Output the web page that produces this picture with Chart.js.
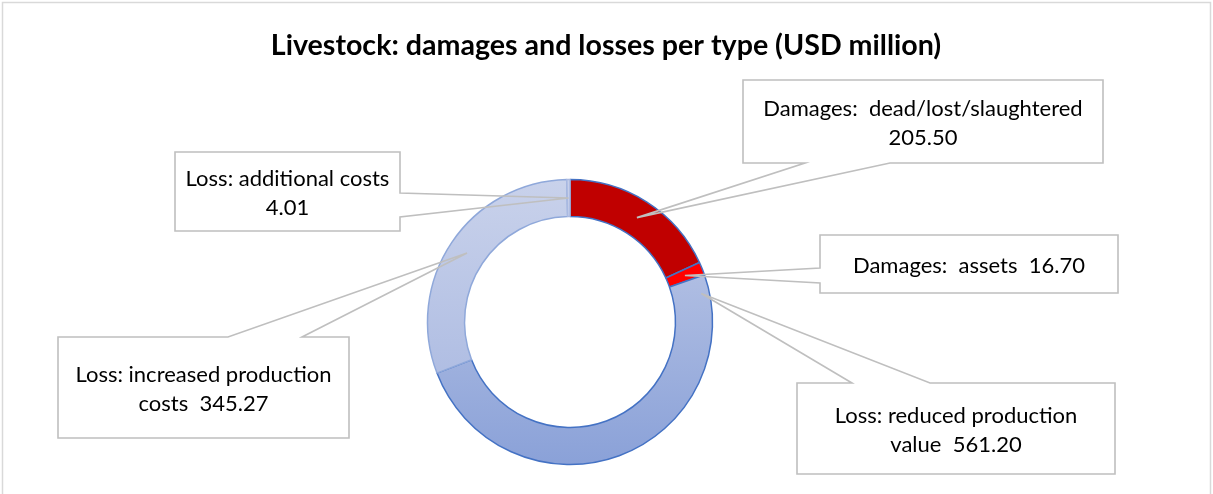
<!DOCTYPE html>
<html>
<head>
<meta charset="utf-8">
<script src="https://cdn.jsdelivr.net/npm/chart.js@4/dist/chart.umd.min.js"></script>
<style>
  body { margin: 0; background: #fff; }
  #wrap { position: relative; width: 1213px; height: 494px; }
</style>
</head>
<body>
<div id="wrap"><canvas id="livestock-chart"></canvas></div>
<script>
const chartTitle = 'Livestock: damages and losses per type (USD million)';
const categories = [
  'Damages:  dead/lost/slaughtered',
  'Damages:  assets',
  'Loss: reduced production value',
  'Loss: increased production costs',
  'Loss: additional costs',
];
const values = [205.5, 16.7, 561.2, 345.27, 4.01];

// slice looks (plain colour or top/bottom gradient)
const sliceFills = ['#C00000', '#FF0000', ['#C2CCE8', '#8AA1D8'], ['#C9D2EB', '#A4B4DF'], '#C6CFEA'];
const sliceBorders = ['#4472C4', '#4472C4', '#4472C4', '#8FA8DA', '#A9B9E1'];

// callout boxes: x, y, w, h + where the pointer leaves the box
const callouts = [
  { box: [743, 80, 360, 83], side: 'bottom', base: [805, 890], at: 0.5, rad: 0.5, wrap: 345 },
  { box: [820, 235, 298, 58], side: 'left', base: [268, 283], at: 0.5, rad: 0.5, wrap: 285 },
  { box: [797, 383, 318, 91], side: 'top', base: [852, 930], at: 0.04, rad: 0.78, wrap: 275 },
  { box: [58, 337, 291, 101], side: 'top', base: [228, 302], at: 0.5, rad: 0.5, wrap: 285 },
  { box: [175, 152, 225, 79], side: 'right', base: [193, 217], at: 0.5, rad: 0.5, wrap: 230 },
];

function SliceFill(ctx) {
  const fill = sliceFills[ctx.dataIndex];
  if (!Array.isArray(fill)) return fill;
  const area = ctx.chart.chartArea;
  if (!area) return fill[0];
  const g = ctx.chart.ctx.createLinearGradient(0, area.top, 0, area.bottom);
  g.addColorStop(0, fill[0]);
  g.addColorStop(1, fill[1]);
  return g;
}

function WrapText(ctx, text, maxWidth) {
  const words = text.split(' ');
  let lines = [];
  let line = '';
  words.forEach((w) => {
    let test = line === '' ? w : line + ' ' + w;
    if (line.trim() !== '' && w !== '' && ctx.measureText(test.trim()).width > maxWidth) {
      lines.push(line.trim());
      line = w;
    } else {
      line = test;
    }
  });
  lines.push(line.trim());
  return lines;
}

function CalloutPath(ctx, c, p) {
  const [x, y, w, h] = c.box;
  const [a, b] = c.base;
  ctx.beginPath();
  ctx.moveTo(x, y);
  if (c.side === 'top') { ctx.lineTo(a, y); ctx.lineTo(p.x, p.y); ctx.lineTo(b, y); }
  ctx.lineTo(x + w, y);
  if (c.side === 'right') { ctx.lineTo(x + w, a); ctx.lineTo(p.x, p.y); ctx.lineTo(x + w, b); }
  ctx.lineTo(x + w, y + h);
  if (c.side === 'bottom') { ctx.lineTo(b, y + h); ctx.lineTo(p.x, p.y); ctx.lineTo(a, y + h); }
  ctx.lineTo(x, y + h);
  if (c.side === 'left') { ctx.lineTo(x, b); ctx.lineTo(p.x, p.y); ctx.lineTo(x, a); }
  ctx.closePath();
}

const frameAndTitle = {
  id: 'frameAndTitle',
  beforeDraw(chart) {
    const ctx = chart.ctx;
    ctx.save();
    ctx.fillStyle = '#fff';
    ctx.fillRect(0, 0, chart.width, chart.height);
    ctx.strokeStyle = '#D9D9D9';
    ctx.lineWidth = 1.5;
    ctx.strokeRect(2.5, 2.5, chart.width - 5, chart.height + 20);
    ctx.fillStyle = '#000';
    ctx.font = 'bold 28.6px Lato';
    ctx.textAlign = 'center';
    ctx.textBaseline = 'alphabetic';
    ctx.fillText(chartTitle, 606, 55);
    ctx.restore();
  },
};

const calloutLabels = {
  id: 'calloutLabels',
  afterDraw(chart) {
    const ctx = chart.ctx;
    const meta = chart.getDatasetMeta(0);
    ctx.save();
    ctx.font = '22px Lato';
    ctx.textAlign = 'center';
    ctx.textBaseline = 'middle';
    callouts.forEach((c, i) => {
      const arc = meta.data[i].getProps(['x', 'y', 'startAngle', 'endAngle', 'innerRadius', 'outerRadius'], true);
      const ang = arc.startAngle + (arc.endAngle - arc.startAngle) * c.at;
      const r = arc.innerRadius + (arc.outerRadius - arc.innerRadius) * c.rad;
      const p = { x: arc.x + Math.cos(ang) * r, y: arc.y + Math.sin(ang) * r };
      const [x, y, w, h] = c.box;
      ctx.fillStyle = '#fff';
      ctx.fillRect(x, y, w, h);
      CalloutPath(ctx, c, p);
      ctx.strokeStyle = '#BFBFBF';
      ctx.lineWidth = 1.6;
      ctx.stroke();
      const lines = WrapText(ctx, categories[i] + '  ' + values[i].toFixed(2), c.wrap);
      const lh = 29;
      const top = y + h / 2 + 2 - (lines.length - 1) * lh / 2;
      ctx.fillStyle = '#000';
      lines.forEach((ln, k) => ctx.fillText(ln, x + w / 2, top + k * lh));
    });
    ctx.restore();
  },
};

new Chart(document.getElementById('livestock-chart'), {
  type: 'doughnut',
  data: {
    labels: categories,
    datasets: [{
      data: values,
      backgroundColor: SliceFill,
      borderColor: sliceBorders,
      borderWidth: 1.5,
    }],
  },
  options: {
    responsive: true,
    maintainAspectRatio: false,
    animation: false,
    cutout: '74%',
    layout: { padding: { top: 178.75, bottom: 28.75, left: 0, right: 73 } },
    plugins: {
      legend: { display: false },
      tooltip: { enabled: false },
      title: { display: false },
    },
  },
  plugins: [frameAndTitle, calloutLabels],
});
</script>
</body>
</html>
